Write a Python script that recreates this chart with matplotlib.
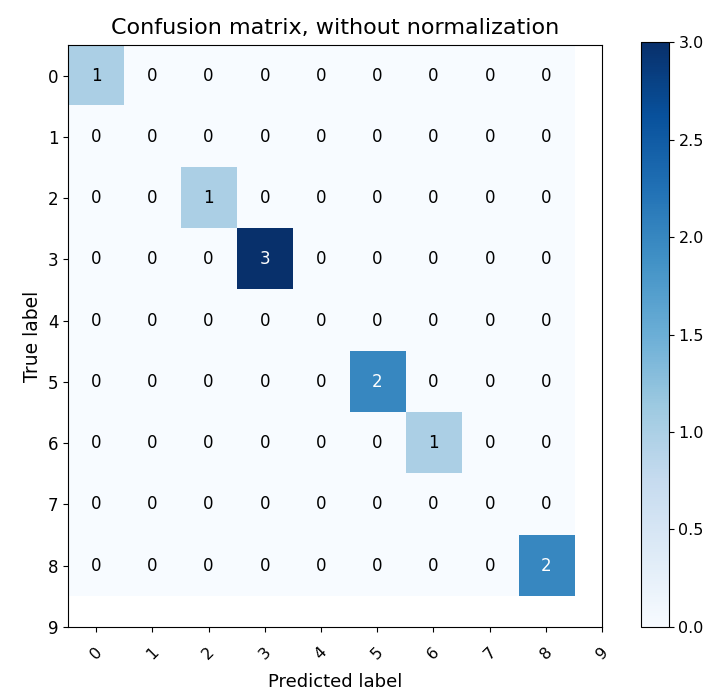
import numpy as np
import matplotlib
matplotlib.use("Agg")
import matplotlib.pyplot as plt

classes = ["0", "1", "2", "3", "4", "5", "6", "7", "8", "9"]
cm = np.array([
    [1, 0, 0, 0, 0, 0, 0, 0, 0],
    [0, 0, 0, 0, 0, 0, 0, 0, 0],
    [0, 0, 1, 0, 0, 0, 0, 0, 0],
    [0, 0, 0, 3, 0, 0, 0, 0, 0],
    [0, 0, 0, 0, 0, 0, 0, 0, 0],
    [0, 0, 0, 0, 0, 2, 0, 0, 0],
    [0, 0, 0, 0, 0, 0, 1, 0, 0],
    [0, 0, 0, 0, 0, 0, 0, 0, 0],
    [0, 0, 0, 0, 0, 0, 0, 0, 2],
])
title = "Confusion matrix, without normalization"

fig = plt.figure(figsize=(7.16, 6.92), dpi=100)
ax = fig.add_axes([0.095, 0.094, 0.746, 0.841])
cax = fig.add_axes([0.895, 0.094, 0.039, 0.845])

im = ax.imshow(cm, interpolation="nearest", cmap=plt.cm.Blues, aspect="auto")
ax.set_title(title, fontsize=16, pad=8)
cb = fig.colorbar(im, cax=cax)
cb.ax.tick_params(labelsize=11.5)

ticks = np.arange(len(classes))
ax.set_xticks(ticks)
ax.set_xticklabels(classes, rotation=45, fontsize=11.5)
ax.set_yticks(ticks)
ax.set_yticklabels(classes, fontsize=12)
ax.tick_params(axis="x", pad=9)
ax.set_xlim(-0.5, len(classes) - 1)
ax.set_ylim(len(classes) - 1, -0.5)

thresh = cm.max() / 2.0
for i in range(cm.shape[0]):
    for j in range(cm.shape[1]):
        ax.text(j, i, format(cm[i, j], "d"), ha="center", va="center",
                fontsize=12, color="white" if cm[i, j] > thresh else "black")

ax.set_ylabel("True label", fontsize=13.5)
ax.set_xlabel("Predicted label", fontsize=13, labelpad=8)

fig.savefig("out.png", dpi=100)
